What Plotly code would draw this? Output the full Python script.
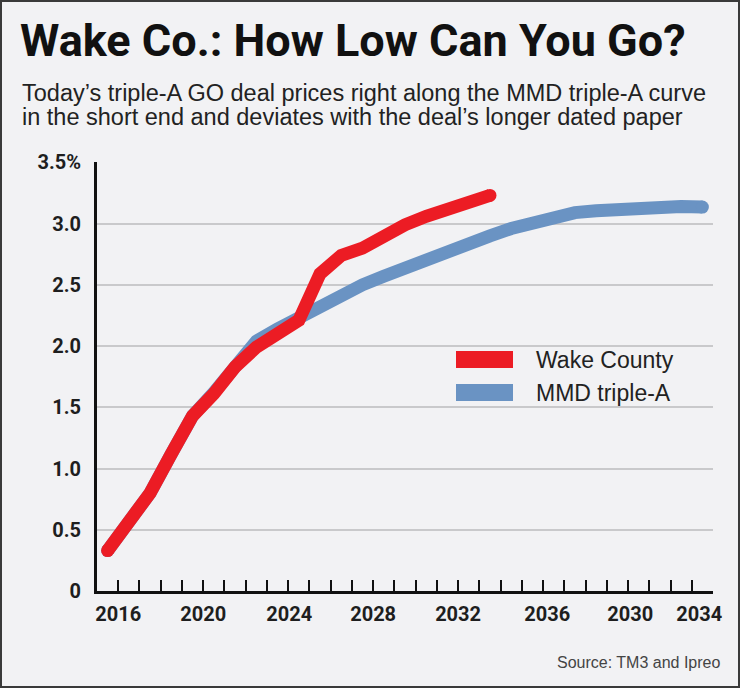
import plotly.graph_objects as go

# ---- data ----
wake_years = list(range(2016, 2035))
wake_yield = [0.33, 0.57, 0.80, 1.12, 1.43, 1.61, 1.83, 1.99, 2.11, 2.21,
              2.59, 2.74, 2.80, 2.91, 2.99, 3.06, 3.12, 3.18, 3.23]
mmd_years = list(range(2016, 2045))
mmd_yield = [0.33, 0.57, 0.80, 1.12, 1.43, 1.62, 1.84, 2.04, 2.14, 2.23,
             2.34, 2.43, 2.50, 2.57, 2.64, 2.71, 2.78, 2.84, 2.90, 2.96,
             3.01, 3.06, 3.09, 3.105, 3.12, 3.13, 3.135, 3.14, 3.135]
x_tick_labels = ["2016", "2020", "2024", "2028", "2032", "2036", "2030", "2034"]
x_label_pos = [2016.5, 2020.5, 2024.55, 2028.5, 2032.5, 2036.7, 2040.6, 2043.85]
y_tick_vals = [0, 0.5, 1.0, 1.5, 2.0, 2.5, 3.0, 3.5]
y_tick_labels = ["0", "0.5", "1.0", "1.5", "2.0", "2.5", "3.0", "3.5%"]
series_names = ["Wake County", "MMD triple-A"]

RED = "#EC1C24"
BLUE = "#6A93C3"
BG = "#F2F2F4"
W, H = 740, 688
ML, MR, MT, MB = 97, 27, 162, 97
PW, PH = W - ML - MR, H - MT - MB


def px(x):
    return (x - ML) / PW


def py(y):
    return (H - MB - y) / PH


fig = go.Figure()
LW = 13
fig.add_trace(go.Scatter(x=mmd_years, y=mmd_yield, mode="lines",
                         line=dict(color=BLUE, width=LW), name=series_names[1],
                         hoverinfo="skip"))
fig.add_trace(go.Scatter(x=[mmd_years[0], mmd_years[-1]], y=[mmd_yield[0], mmd_yield[-1]],
                         mode="markers", marker=dict(color=BLUE, size=LW, line=dict(width=0)),
                         hoverinfo="skip"))
fig.add_trace(go.Scatter(x=wake_years, y=wake_yield, mode="lines",
                         line=dict(color=RED, width=LW), name=series_names[0],
                         hoverinfo="skip"))
fig.add_trace(go.Scatter(x=[wake_years[0], wake_years[-1]], y=[wake_yield[0], wake_yield[-1]],
                         mode="markers", marker=dict(color=RED, size=LW, line=dict(width=0)),
                         hoverinfo="skip"))
# carrier for the label axis
fig.add_trace(go.Scatter(x=x_label_pos, y=[None] * len(x_label_pos), xaxis="x2",
                         mode="markers", marker=dict(opacity=0), hoverinfo="skip"))

BOLDF = "Roboto, Liberation Sans, Arial, sans-serif"
SANS = "Liberation Sans, Arial, sans-serif"
xtick_font = dict(family=BOLDF, size=20, color="#1e1e1e", weight="bold")
ytick_font = dict(family=BOLDF, size=20, color="#1e1e1e", weight="bold")

fig.update_layout(
    width=W, height=H,
    margin=dict(l=ML, r=MR, t=MT, b=MB),
    paper_bgcolor=BG, plot_bgcolor=BG,
    showlegend=False,
    xaxis=dict(range=[2015.5, 2044.5], tickmode="array",
               tickvals=[2016.5 + j for j in range(29)],
               ticks="inside", ticklen=11, tickwidth=2, tickcolor="#111111",
               showticklabels=False, showgrid=False, zeroline=False,
               showline=True, linecolor="#111111", linewidth=3),
    xaxis2=dict(range=[2015.5, 2044.5], overlaying="x", side="bottom",
                tickmode="array", tickvals=x_label_pos, ticktext=x_tick_labels,
                ticks="", showgrid=False, zeroline=False, showline=False,
                tickfont=xtick_font, ticklabelstandoff=9),
    yaxis=dict(range=[0, 3.503], tickmode="array", tickvals=y_tick_vals,
               ticktext=y_tick_labels, ticks="", tickfont=ytick_font,
               ticklabelstandoff=9,
               showgrid=True, gridcolor="#C9C9CB", gridwidth=1.5,
               zeroline=False, showline=True, linecolor="#111111", linewidth=3),
)

shapes = [
    # outer frame
    dict(type="rect", xref="paper", yref="paper",
         x0=px(1), x1=px(W - 1), y0=py(H - 1), y1=py(1),
         line=dict(color="#3a3a3a", width=2), fillcolor="rgba(0,0,0,0)", layer="above"),
    # legend swatches
    dict(type="rect", xref="paper", yref="paper", x0=px(456), x1=px(513),
         y0=py(368), y1=py(351), fillcolor=RED, line=dict(width=0)),
    dict(type="rect", xref="paper", yref="paper", x0=px(456), x1=px(513),
         y0=py(401), y1=py(384), fillcolor=BLUE, line=dict(width=0)),
]
fig.update_layout(shapes=shapes)


def note(text, x, y, xanchor, size, family=SANS, color="#222222", weight="normal"):
    return dict(text=text, xref="paper", yref="paper", x=px(x), y=py(y),
                xanchor=xanchor, yanchor="middle", showarrow=False,
                font=dict(family=family, size=size, color=color, weight=weight))


ann = [
    note("Wake Co.: How Low Can You Go?", 18, 41, "left", 45, BOLDF, "#111111", "bold"),
    note("Today\u2019s triple-A GO deal prices right along the MMD triple-A curve", 20, 93, "left", 23.5),
    note("in the short end and deviates with the deal\u2019s longer dated paper", 20, 117, "left", 23.5),
    note(series_names[0], 534, 360, "left", 23),
    note(series_names[1], 534, 393, "left", 23),
    note("Source: TM3 and Ipreo", 722, 662, "right", 16, SANS, "#444444"),
]
fig.update_layout(annotations=ann)

fig.write_html("out.html", config={"displayModeBar": False},
               post_script="document.body.style.margin='0px';")
